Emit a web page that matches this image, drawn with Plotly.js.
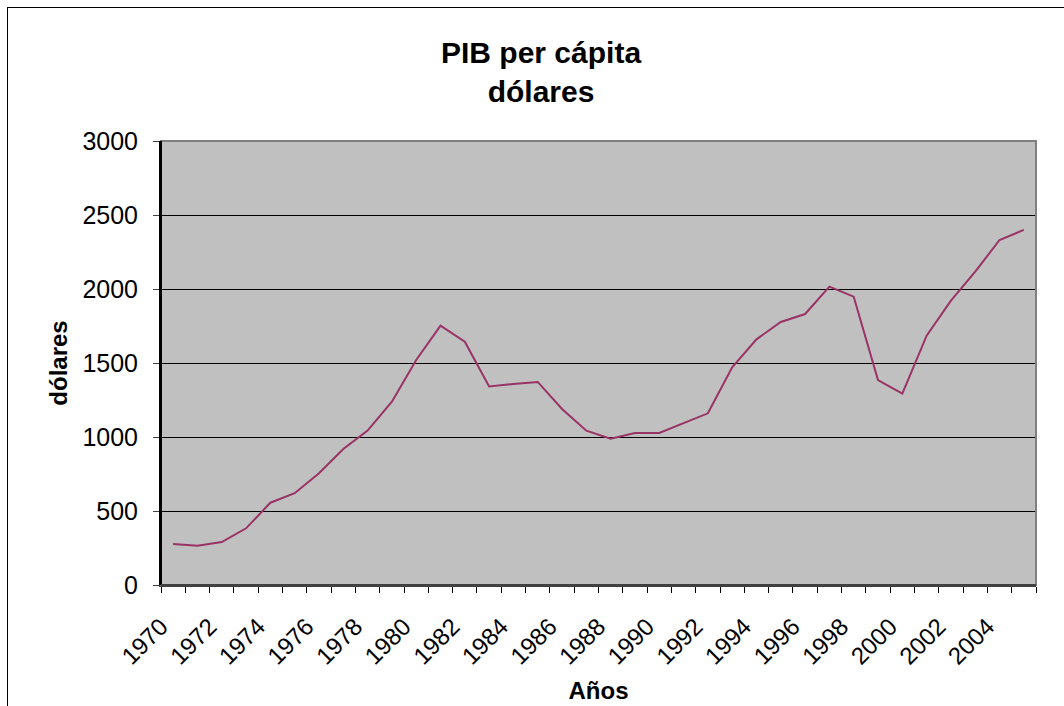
<!DOCTYPE html>
<html>
<head>
<meta charset="utf-8">
<script src="https://cdn.plot.ly/plotly-3.0.1.min.js"></script>
<style>
html,body{margin:0;padding:0;background:#fff;}
#chart{width:1064px;height:706px;}
</style>
</head>
<body>
<div id="chart"></div>
<script>
// Years (categories)
var years = [1970,1971,1972,1973,1974,1975,1976,1977,1978,1979,
             1980,1981,1982,1983,1984,1985,1986,1987,1988,1989,
             1990,1991,1992,1993,1994,1995,1996,1997,1998,1999,
             2000,2001,2002,2003,2004,2005];
// PIB per cápita, dólares
var pib = [277,266,290,383,556,620,755,919,1043,1239,
           1520,1752,1644,1342,1358,1372,1189,1043,989,1027,
           1027,1093,1160,1471,1660,1777,1831,2016,1948,1385,
           1293,1685,1921,2117,2331,2399];
// Tick labels on the category axis
var tickLabels = ['1970','1972','1974','1976','1978','1980','1982','1984','1986',
                  '1988','1990','1992','1994','1996','1998','2000','2002','2004'];
var yTicks = [0,500,1000,1500,2000,2500,3000];

var font = 'Liberation Sans, Arial, sans-serif';
var tickVals = tickLabels.map(function(t){ return parseInt(t,10) - 0.5; });

var trace = {
  x: years,
  y: pib,
  type: 'scatter',
  mode: 'lines',
  line: {color: '#993366', width: 2},
  hoverinfo: 'x+y'
};

var layout = {
  width: 1064,
  height: 706,
  margin: {l: 161, r: 28, t: 141, b: 121},
  paper_bgcolor: '#ffffff',
  plot_bgcolor: '#C0C0C0',
  showlegend: false,
  font: {family: font, color: '#000'},
  title: {
    text: '<b>PIB per cápita<br>dólares</b>',
    font: {family: font, size: 30, color: '#000'},
    x: 0.5085, xref: 'container', xanchor: 'center',
    y: 0.911, yref: 'container', yanchor: 'middle'
  },
  xaxis: {
    range: [1969.5, 2005.5],
    tickmode: 'array',
    tickvals: tickVals,
    ticktext: tickLabels,
    tickangle: -45,
    ticks: 'outside',
    ticklen: 6,
    tickwidth: 1,
    tickcolor: '#000',
    ticklabelstandoff: 10,
    tickfont: {family: font, size: 24, color: '#000'},
    minor: {ticks: 'outside', tick0: 1969.5, dtick: 1, ticklen: 6, tickwidth: 1, tickcolor: '#000', showgrid: false},
    showgrid: false,
    zeroline: false,
    showline: true,
    linecolor: '#404040',
    linewidth: 2,
    fixedrange: true,
    title: {text: '<b>Años</b>', font: {family: font, size: 24, color: '#000'}, standoff: 14}
  },
  yaxis: {
    range: [0, 3000],
    tickmode: 'array',
    tickvals: yTicks,
    ticks: 'outside',
    ticklen: 6,
    tickwidth: 1,
    tickcolor: '#404040',
    ticklabelstandoff: 10,
    tickfont: {family: font, size: 25, color: '#000'},
    showgrid: true,
    gridcolor: '#000000',
    gridwidth: 1,
    zeroline: false,
    showline: true,
    linecolor: '#000000',
    linewidth: 2,
    fixedrange: true,
    title: {text: '<b>dólares</b>', font: {family: font, size: 24, color: '#000'}, standoff: 8}
  },
  shapes: [
    {type: 'rect', xref: 'paper', yref: 'paper', x0: 0, x1: 1, y0: 0, y1: 1,
     line: {color: '#808080', width: 2}, fillcolor: 'rgba(0,0,0,0)', layer: 'above'},
    {type: 'line', xref: 'paper', yref: 'paper', x0: 0, x1: 0, y0: 0, y1: 1,
     line: {color: '#000', width: 2}, layer: 'above'},
    {type: 'line', xref: 'paper', yref: 'paper', x0: 0, x1: 1, y0: 0, y1: 0,
     line: {color: '#404040', width: 2}, layer: 'above'}
  ]
};

Plotly.newPlot('chart', [trace], layout, {displayModeBar: false, staticPlot: true}).then(function(){
  // outer chart-area border (extends past the right/bottom of the picture)
  var svg = document.querySelector('#chart .main-svg');
  var ns = 'http://www.w3.org/2000/svg';
  var r = document.createElementNS(ns, 'rect');
  r.setAttribute('x', 7.5); r.setAttribute('y', 7.5);
  r.setAttribute('width', 1080); r.setAttribute('height', 720);
  r.setAttribute('fill', 'none'); r.setAttribute('stroke', '#000'); r.setAttribute('stroke-width', 1);
  svg.appendChild(r);
});
</script>
</body>
</html>
